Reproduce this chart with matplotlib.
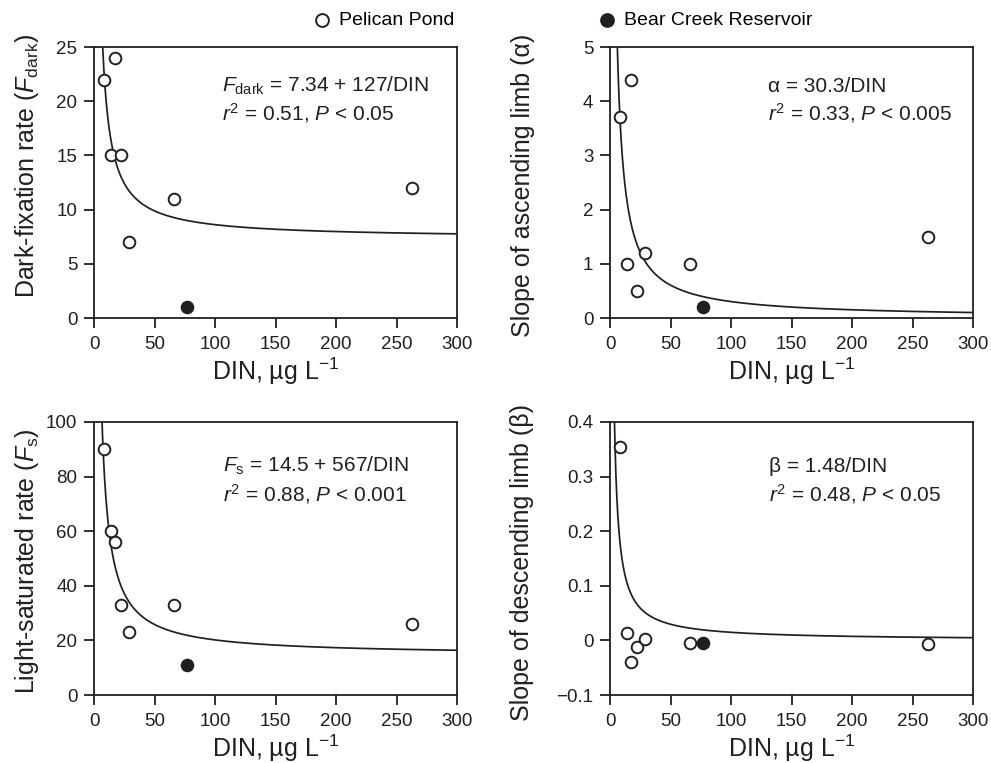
import numpy as np
import matplotlib
matplotlib.use("Agg")
import matplotlib.pyplot as plt

plt.rcParams['font.family'] = ['Liberation Sans', 'DejaVu Sans']
plt.rcParams['mathtext.fontset'] = 'custom'
plt.rcParams['mathtext.rm'] = 'Liberation Sans'
plt.rcParams['mathtext.it'] = 'Liberation Sans:italic'
plt.rcParams['mathtext.bf'] = 'Liberation Sans:bold'

INK = '#231f20'

# DIN (ug/L) of the sampling dates
din_pelican = [8, 14, 17, 22, 29, 66, 263]
din_bear = [76.5]

# rates / slopes
fdark_pelican = [22, 15, 24, 15, 7, 11, 12]
fdark_bear = [1]
alpha_pelican = [3.7, 1.0, 4.4, 0.5, 1.2, 1.0, 1.5]
alpha_bear = [0.2]
fs_pelican = [90, 60, 56, 33, 23, 33, 26]
fs_bear = [11]
beta_pelican = [0.355, 0.013, -0.039, -0.012, 0.002, -0.004, -0.007]
beta_bear = [-0.004]

# fitted curves: y = a + b / DIN
fit_fdark = (7.34, 127)
fit_alpha = (0.0, 30.3)
fit_fs = (14.5, 567)
fit_beta = (0.0, 1.48)

x_ticks = [0, 50, 100, 150, 200, 250, 300]
fdark_ticks = [0, 5, 10, 15, 20, 25]
alpha_ticks = [0, 1, 2, 3, 4, 5]
fs_ticks = [0, 20, 40, 60, 80, 100]
beta_ticks = [-0.1, 0, 0.1, 0.2, 0.3, 0.4]
beta_tick_labels = ['\u22120.1', '0', '0.1', '0.2', '0.3', '0.4']

W, H = 991, 763
fig = plt.figure(figsize=(W / 100, H / 100), dpi=100)


def px_axes(left, right, top, bottom):
    return fig.add_axes([left / W, 1 - bottom / H, (right - left) / W, (bottom - top) / H])


ax_a = px_axes(94, 457, 47, 318)
ax_b = px_axes(610, 973, 47, 318)
ax_c = px_axes(94, 457, 422, 695)
ax_d = px_axes(610, 973, 422, 695)

panels = [
    (ax_a, fdark_pelican, fdark_bear, fit_fdark, fdark_ticks, None,
     r'Dark-fixation rate ($\mathit{F}_\mathrm{dark}$)', -0.145, 0.56,
     r'$\mathit{F}_\mathrm{dark}$ = 7.34 + 127/DIN', r'$\mathit{r}^2$ = 0.51, $\mathit{P}$ < 0.05',
     0.352, 0.835, 0.728),
    (ax_b, alpha_pelican, alpha_bear, fit_alpha, alpha_ticks, None,
     'Slope of ascending limb (\u03b1)', -0.207, 0.49,
     '\u03b1 = 30.3/DIN', r'$\mathit{r}^2$ = 0.33, $\mathit{P}$ < 0.005',
     0.436, 0.835, 0.728),
    (ax_c, fs_pelican, fs_bear, fit_fs, fs_ticks, None,
     r'Light-saturated rate ($\mathit{F}_\mathrm{s}$)', -0.145, 0.49,
     r'$\mathit{F}_\mathrm{s}$ = 14.5 + 567/DIN', r'$\mathit{r}^2$ = 0.88, $\mathit{P}$ < 0.001',
     0.354, 0.818, 0.708),
    (ax_d, beta_pelican, beta_bear, fit_beta, beta_ticks, beta_tick_labels,
     'Slope of descending limb (\u03b2)', -0.21, 0.485,
     '\u03b2 = 1.48/DIN', r'$\mathit{r}^2$ = 0.48, $\mathit{P}$ < 0.05',
     0.439, 0.818, 0.708),
]

xx = np.linspace(1, 300, 3000)
handles = []
for (ax, y_p, y_b, fit, yt, ytl, ylab, lx, ly, eq, stat, tx, ty1, ty2) in panels:
    a, b = fit
    ax.plot(xx, a + b / xx, color=INK, lw=1.25, zorder=2)
    h1 = ax.scatter(din_pelican, y_p, s=70, facecolor='white', edgecolor=INK, linewidth=1.4,
                    zorder=3, clip_on=False)
    h2 = ax.scatter(din_bear, y_b, s=70, facecolor=INK, edgecolor=INK, linewidth=1.4,
                    zorder=3, clip_on=False)
    handles = [h1, h2]
    ax.set_xlim(0, 300)
    ax.set_ylim(yt[0], yt[-1])
    ax.set_xticks(x_ticks)
    ax.set_yticks(yt)
    if ytl is not None:
        ax.set_yticklabels(ytl)
    for sp in ax.spines.values():
        sp.set_linewidth(1.3)
        sp.set_color(INK)
    ax.tick_params(direction='out', length=7, width=1.3, labelsize=13.5, colors=INK)
    ax.tick_params(axis='x', pad=6)
    ax.tick_params(axis='y', pad=5)
    ax.set_xlabel(r'DIN, µg L$^{-1}$', fontsize=18, color=INK, labelpad=2)
    ax.set_ylabel(ylab, fontsize=18, color=INK)
    ax.yaxis.set_label_coords(lx, ly)
    ax.text(tx, ty1, eq, transform=ax.transAxes, fontsize=15, color=INK, va='baseline')
    ax.text(tx, ty2, stat, transform=ax.transAxes, fontsize=15, color=INK, va='baseline')

fig.legend([handles[0]], ['Pelican Pond'], loc='center left',
           bbox_to_anchor=(312 / W, 1 - 20 / H), frameon=False, fontsize=14,
           handlelength=1, handletextpad=0.4, borderpad=0, borderaxespad=0,
           scatterpoints=1, markerscale=1.1)
fig.legend([handles[1]], ['Bear Creek Reservoir'], loc='center left',
           bbox_to_anchor=(597 / W, 1 - 20 / H), frameon=False, fontsize=14,
           handlelength=1, handletextpad=0.4, borderpad=0, borderaxespad=0,
           scatterpoints=1, markerscale=1.1)

fig.savefig('out.png', dpi=100)
